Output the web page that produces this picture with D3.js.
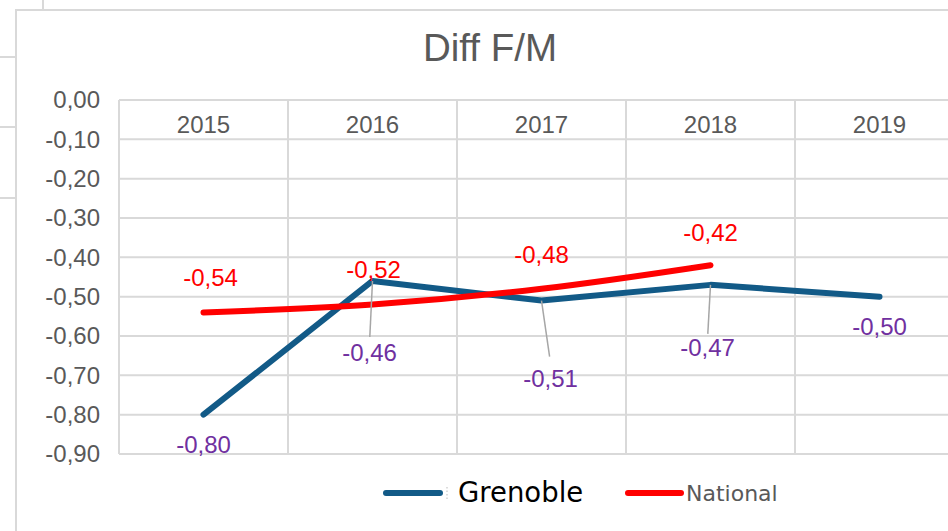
<!DOCTYPE html>
<html><head><meta charset="utf-8">
<script src="https://cdn.jsdelivr.net/npm/d3@7/dist/d3.min.js"></script>
<style>html,body{margin:0;padding:0;background:#fff;overflow:hidden}svg{display:block}</style>
</head><body>
<script>
const years = ["2015","2016","2017","2018","2019"];
const grenoble = [-0.80, -0.46, -0.51, -0.47, -0.50];
const national = [-0.54, -0.52, -0.48, -0.42];
const yTicks = [0, -0.1, -0.2, -0.3, -0.4, -0.5, -0.6, -0.7, -0.8, -0.9];
const title = "Diff F/M";
const seriesNames = ["Grenoble", "National"];

const W = 948, H = 531;
const svg = d3.select("body").append("svg").attr("width", W).attr("height", H);
const grid = "#d9d9d9";
const font = "'Liberation Sans', Arial, sans-serif";
const fmt = v => (v === 0 ? "0,00" : d3.format(".2f")(v).replace("−","-").replace(".", ","));

// spreadsheet cell lines behind the chart
svg.append("line").attr("x1",43).attr("x2",43).attr("y1",0).attr("y2",10).attr("stroke",grid).attr("stroke-width",2);
[57,127,198].forEach(y=>svg.append("line").attr("x1",0).attr("x2",16).attr("y1",y).attr("y2",y).attr("stroke",grid).attr("stroke-width",2));
// chart border
svg.append("rect").attr("x",16).attr("y",10).attr("width",1000).attr("height",600).attr("fill","#fff").attr("stroke",grid).attr("stroke-width",2);

const x = d3.scaleBand().domain(years).range([119, 964]);
const y = d3.scaleLinear().domain([0, -0.9]).range([100, 454]);
const cx = d => x(d) + x.bandwidth()/2;

// title
svg.append("text").attr("x",490).attr("y",61).attr("text-anchor","middle")
  .attr("font-family",font).attr("font-size",38.5).attr("fill","#595959").text(title);

// horizontal grid
svg.append("g").selectAll("line").data(yTicks).join("line")
  .attr("x1",119).attr("x2",W).attr("y1",d=>y(d)).attr("y2",d=>y(d))
  .attr("stroke",grid).attr("stroke-width",2);
// vertical grid
svg.append("g").selectAll("line").data(years).join("line")
  .attr("x1",d=>x(d)).attr("x2",d=>x(d)).attr("y1",y(0)).attr("y2",y(-0.9))
  .attr("stroke",grid).attr("stroke-width",2);

// y axis labels
const yAxis = d3.axisLeft(y).tickValues(yTicks).tickFormat(fmt).tickSize(0).tickPadding(19);
const ga = svg.append("g").attr("transform","translate(119,0)").call(yAxis);
ga.select(".domain").remove();
ga.selectAll("text").attr("font-family",font).attr("font-size",24).attr("fill","#595959");

// x category labels at top
const xAxis = d3.axisTop(x).tickSize(0).tickPadding(0);
const gx = svg.append("g").attr("transform","translate(0,133)").call(xAxis);
gx.select(".domain").remove();
gx.selectAll("text").attr("font-family",font).attr("font-size",24).attr("fill","#595959").attr("dy",0);

const blue = "#125A87", red = "#FF0000", purple = "#7030A0";

// lines
const gLine = d3.line().x((d,i)=>cx(years[i])).y(d=>y(d));
svg.append("path").attr("d",gLine(grenoble)).attr("fill","none").attr("stroke",blue)
  .attr("stroke-width",6).attr("stroke-linecap","round").attr("stroke-linejoin","round");
const nLine = d3.line().x((d,i)=>cx(years[i])).y(d=>y(d)).curve(d3.curveCatmullRom.alpha(0.5));
svg.append("path").attr("d",nLine(national)).attr("fill","none").attr("stroke",red)
  .attr("stroke-width",6).attr("stroke-linecap","round").attr("stroke-linejoin","round");

// label layout offsets (dx, dy of label centre; leader line end dy)
const gOff = [[0,30,null],[-3,72,56],[9,78,56],[-3,63,49],[0,30,null]];
const nOff = [[7,-35],[1,-35],[0,-34],[0,-33]];

grenoble.forEach((v,i)=>{
  const px = cx(years[i]), py = y(v), o = gOff[i];
  if (o[2] !== null) {
    svg.append("line").attr("x1",px).attr("y1",py).attr("x2",px+o[0]*0.9).attr("y2",py+o[2])
      .attr("stroke","#a6a6a6").attr("stroke-width",1.5);
  }
  svg.append("text").attr("x",px+o[0]).attr("y",py+o[1]).attr("text-anchor","middle")
    .attr("dominant-baseline","central").attr("font-family",font).attr("font-size",24)
    .attr("fill",purple).text(fmt(v));
});
national.forEach((v,i)=>{
  const px = cx(years[i]), py = y(v), o = nOff[i];
  svg.append("text").attr("x",px+o[0]).attr("y",py+o[1]).attr("text-anchor","middle")
    .attr("dominant-baseline","central").attr("font-family",font).attr("font-size",24)
    .attr("fill",red).text(fmt(v));
});

// legend
const lg = svg.append("g");
lg.append("line").attr("x1",386).attr("x2",440).attr("y1",493).attr("y2",493)
  .attr("stroke",blue).attr("stroke-width",6).attr("stroke-linecap","round");
lg.append("line").attr("x1",447).attr("x2",447).attr("y1",487).attr("y2",499)
  .attr("stroke","#bbb").attr("stroke-width",1).attr("stroke-dasharray","1.5,2");
lg.append("text").attr("x",458).attr("y",502).attr("font-family","'DejaVu Sans', sans-serif")
  .attr("font-size",27.5).attr("fill","#000").text(seriesNames[0]);
lg.append("line").attr("x1",628).attr("x2",681).attr("y1",493).attr("y2",493)
  .attr("stroke",red).attr("stroke-width",6).attr("stroke-linecap","round");
lg.append("text").attr("x",686).attr("y",501).attr("font-family","'DejaVu Sans', sans-serif")
  .attr("font-size",22).attr("fill","#595959").text(seriesNames[1]);
</script>
</body></html>
